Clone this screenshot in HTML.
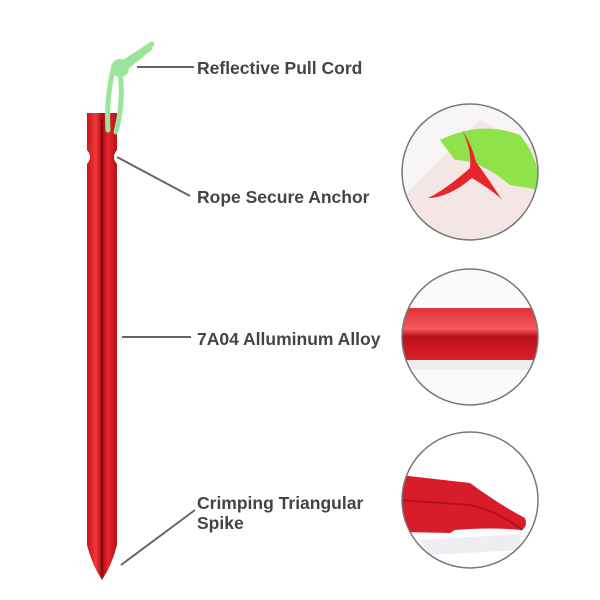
<!DOCTYPE html>
<html><head><style>body{margin:0;background:#fff}svg{display:block}</style></head><body>
<svg width="600" height="600" viewBox="0 0 600 600" xmlns="http://www.w3.org/2000/svg">
<defs>
<linearGradient id="rg" x1="0" x2="1"><stop offset="0" stop-color="#c8141c"/><stop offset=".3" stop-color="#f03a3a"/><stop offset=".5" stop-color="#a80c12"/><stop offset=".7" stop-color="#e8262c"/><stop offset="1" stop-color="#b5101a"/></linearGradient>
<linearGradient id="hg" x1="0" y1="0" x2="0" y2="1"><stop offset="0" stop-color="#e0303a"/><stop offset=".4" stop-color="#f55a60"/><stop offset=".55" stop-color="#b8101a"/><stop offset="1" stop-color="#d8202a"/></linearGradient>
<clipPath id="c1"><circle cx="470" cy="172" r="68"/></clipPath>
<clipPath id="c2"><circle cx="470" cy="337" r="68"/></clipPath>
<clipPath id="c3"><circle cx="470" cy="500" r="68"/></clipPath>
</defs>
<path d="M87 113 H117 V150 Q111 157 117 164 V545 Q112 565 102 580 Q92 565 87 545 V164 Q93 157 87 150 Z" fill="url(#rg)"/>
<line x1="102" y1="120" x2="102" y2="575" stroke="#8a0810" stroke-width="2"/>
<g fill="none" stroke="#9be59a" stroke-width="5" stroke-linecap="round">
<path d="M113 70 Q106 100 108 130"/><path d="M120 72 Q124 100 116 132"/>
<path d="M115 68 L152 44"/><path d="M118 74 L150 48"/>
</g>
<circle cx="120" cy="68" r="9" fill="#9be59a"/>
<g stroke="#666" stroke-width="2" fill="none">
<line x1="137" y1="67" x2="194" y2="67"/>
<line x1="117" y1="157" x2="190" y2="196"/>
<line x1="122" y1="337" x2="191" y2="337"/>
<line x1="121" y1="565" x2="195" y2="510"/>
</g>
<g font-family="Liberation Sans, sans-serif" font-size="17.5" fill="#444" font-weight="bold">
<text x="197" y="74">Reflective Pull Cord</text>
<text x="197" y="203">Rope Secure Anchor</text>
<text x="197" y="345">7A04 Alluminum Alloy</text>
<text x="197" y="509">Crimping Triangular</text>
<text x="197" y="529">Spike</text>
</g>
<g clip-path="url(#c1)">
<rect x="400" y="100" width="140" height="140" fill="#f7f5f5"/>
<path d="M400 200 L480 120 L540 150 L540 240 L400 240Z" fill="#f5e6e6"/>
<path d="M440 140 Q480 120 520 135 Q540 160 540 190 L510 185 Q480 160 455 160Z" fill="#8fe24a"/>
<path d="M462 130 Q472 150 470 168 Q445 190 428 198 Q448 198 472 178 Q495 192 502 200 Q488 178 476 162 Q472 145 462 130Z" fill="#e6262c"/>
</g>
<circle cx="470" cy="172" r="68" fill="none" stroke="#777" stroke-width="1.5"/>
<g clip-path="url(#c2)">
<rect x="400" y="268" width="140" height="140" fill="#fafafa"/>
<rect x="400" y="308" width="140" height="52" fill="url(#hg)"/>
<rect x="400" y="360" width="140" height="10" fill="#eee"/>
</g>
<circle cx="470" cy="337" r="68" fill="none" stroke="#777" stroke-width="1.5"/>
<g clip-path="url(#c3)">
<rect x="400" y="430" width="140" height="140" fill="#fff"/>
<path d="M400 475 L470 483 Q500 505 525 518 Q528 526 522 530 Q490 527 455 530 L450 533 L400 532Z" fill="#d81c2a"/>
<path d="M400 500 L470 505 Q500 512 522 530" stroke="#b50f1c" stroke-width="2" fill="none"/>
<path d="M420 540 L520 534 L520 550 L430 555Z" fill="#eeeef2"/>
</g>
<circle cx="470" cy="500" r="68" fill="none" stroke="#777" stroke-width="1.5"/>
</svg>
</body></html>
